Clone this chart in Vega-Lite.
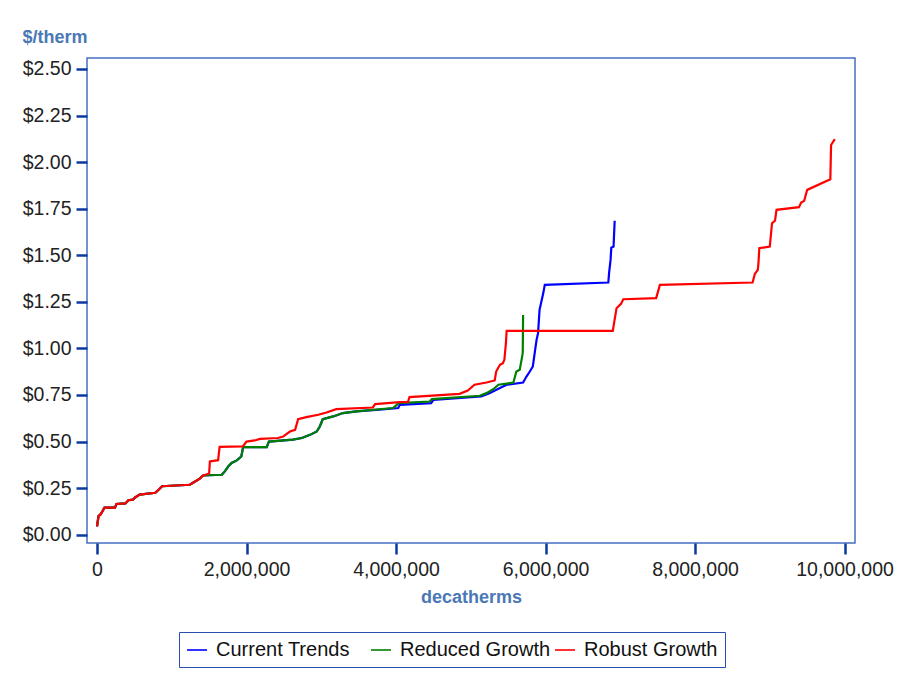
{
  "$schema": "https://vega.github.io/schema/vega-lite/v6.json",
  "width": 768,
  "height": 485,
  "autosize": {"type": "none"},
  "padding": {"left": 87, "top": 58, "right": 42, "bottom": 134},
  "background": "white",
  "config": {"view": {"stroke": "#4470c0", "strokeWidth": 1.5}, "font": "Liberation Sans"},
  "data": {"values": [
    {"s":"Current Trends","i":1,"x":0,"y":0.045},{"s":"Current Trends","i":2,"x":20000,"y":0.10},{"s":"Current Trends","i":3,"x":50000,"y":0.11},{"s":"Current Trends","i":4,"x":100000,"y":0.145},{"s":"Current Trends","i":5,"x":240000,"y":0.145},{"s":"Current Trends","i":6,"x":260000,"y":0.165},{"s":"Current Trends","i":7,"x":380000,"y":0.168},{"s":"Current Trends","i":8,"x":420000,"y":0.185},{"s":"Current Trends","i":9,"x":480000,"y":0.188},{"s":"Current Trends","i":10,"x":510000,"y":0.20},{"s":"Current Trends","i":11,"x":570000,"y":0.215},{"s":"Current Trends","i":12,"x":780000,"y":0.225},{"s":"Current Trends","i":13,"x":820000,"y":0.24},{"s":"Current Trends","i":14,"x":870000,"y":0.26},{"s":"Current Trends","i":15,"x":1240000,"y":0.268},{"s":"Current Trends","i":16,"x":1290000,"y":0.28},{"s":"Current Trends","i":17,"x":1370000,"y":0.30},{"s":"Current Trends","i":18,"x":1420000,"y":0.318},
    {"s":"Current Trends","i":19,"x":1670000,"y":0.322},{"s":"Current Trends","i":20,"x":1710000,"y":0.34},{"s":"Current Trends","i":21,"x":1755000,"y":0.366},{"s":"Current Trends","i":22,"x":1800000,"y":0.385},{"s":"Current Trends","i":23,"x":1870000,"y":0.399},{"s":"Current Trends","i":24,"x":1930000,"y":0.42},{"s":"Current Trends","i":25,"x":1955000,"y":0.47},{"s":"Current Trends","i":26,"x":2270000,"y":0.47},{"s":"Current Trends","i":27,"x":2300000,"y":0.50},{"s":"Current Trends","i":28,"x":2620000,"y":0.51},{"s":"Current Trends","i":29,"x":2740000,"y":0.519},{"s":"Current Trends","i":30,"x":2850000,"y":0.536},{"s":"Current Trends","i":31,"x":2940000,"y":0.554},{"s":"Current Trends","i":32,"x":2980000,"y":0.581},{"s":"Current Trends","i":33,"x":3020000,"y":0.62},{"s":"Current Trends","i":34,"x":3160000,"y":0.635},{"s":"Current Trends","i":35,"x":3290000,"y":0.653},{"s":"Current Trends","i":36,"x":3470000,"y":0.662},
    {"s":"Current Trends","i":37,"x":3780000,"y":0.671},{"s":"Current Trends","i":38,"x":4030000,"y":0.68},{"s":"Current Trends","i":39,"x":4050000,"y":0.697},{"s":"Current Trends","i":40,"x":4470000,"y":0.706},{"s":"Current Trends","i":41,"x":4500000,"y":0.724},{"s":"Current Trends","i":42,"x":5140000,"y":0.742},{"s":"Current Trends","i":43,"x":5250000,"y":0.76},{"s":"Current Trends","i":44,"x":5390000,"y":0.787},{"s":"Current Trends","i":45,"x":5480000,"y":0.805},{"s":"Current Trends","i":46,"x":5700000,"y":0.817},{"s":"Current Trends","i":47,"x":5745000,"y":0.849},{"s":"Current Trends","i":48,"x":5790000,"y":0.876},{"s":"Current Trends","i":49,"x":5830000,"y":0.903},{"s":"Current Trends","i":50,"x":5855000,"y":0.975},{"s":"Current Trends","i":51,"x":5880000,"y":1.046},{"s":"Current Trends","i":52,"x":5900000,"y":1.082},{"s":"Current Trends","i":53,"x":5920000,"y":1.207},{"s":"Current Trends","i":54,"x":5970000,"y":1.297},{"s":"Current Trends","i":55,"x":5990000,"y":1.341},{"s":"Current Trends","i":56,"x":6840000,"y":1.354},{"s":"Current Trends","i":57,"x":6850000,"y":1.404},{"s":"Current Trends","i":58,"x":6870000,"y":1.475},{"s":"Current Trends","i":59,"x":6880000,"y":1.541},{"s":"Current Trends","i":60,"x":6910000,"y":1.547},{"s":"Current Trends","i":61,"x":6925000,"y":1.685},

    {"s":"Reduced Growth","i":1,"x":0,"y":0.045},{"s":"Reduced Growth","i":2,"x":20000,"y":0.10},{"s":"Reduced Growth","i":3,"x":50000,"y":0.11},{"s":"Reduced Growth","i":4,"x":100000,"y":0.145},{"s":"Reduced Growth","i":5,"x":240000,"y":0.145},{"s":"Reduced Growth","i":6,"x":260000,"y":0.165},{"s":"Reduced Growth","i":7,"x":380000,"y":0.168},{"s":"Reduced Growth","i":8,"x":420000,"y":0.185},{"s":"Reduced Growth","i":9,"x":480000,"y":0.188},{"s":"Reduced Growth","i":10,"x":510000,"y":0.20},{"s":"Reduced Growth","i":11,"x":570000,"y":0.215},{"s":"Reduced Growth","i":12,"x":780000,"y":0.225},{"s":"Reduced Growth","i":13,"x":820000,"y":0.24},{"s":"Reduced Growth","i":14,"x":870000,"y":0.26},{"s":"Reduced Growth","i":15,"x":1240000,"y":0.268},{"s":"Reduced Growth","i":16,"x":1290000,"y":0.28},{"s":"Reduced Growth","i":17,"x":1370000,"y":0.30},{"s":"Reduced Growth","i":18,"x":1420000,"y":0.318},
    {"s":"Reduced Growth","i":19,"x":1670000,"y":0.322},{"s":"Reduced Growth","i":20,"x":1710000,"y":0.34},{"s":"Reduced Growth","i":21,"x":1755000,"y":0.366},{"s":"Reduced Growth","i":22,"x":1800000,"y":0.385},{"s":"Reduced Growth","i":23,"x":1870000,"y":0.399},{"s":"Reduced Growth","i":24,"x":1930000,"y":0.42},{"s":"Reduced Growth","i":25,"x":1955000,"y":0.47},{"s":"Reduced Growth","i":26,"x":2270000,"y":0.47},{"s":"Reduced Growth","i":27,"x":2300000,"y":0.50},{"s":"Reduced Growth","i":28,"x":2620000,"y":0.51},{"s":"Reduced Growth","i":29,"x":2740000,"y":0.519},{"s":"Reduced Growth","i":30,"x":2850000,"y":0.536},{"s":"Reduced Growth","i":31,"x":2940000,"y":0.554},{"s":"Reduced Growth","i":32,"x":2980000,"y":0.581},{"s":"Reduced Growth","i":33,"x":3020000,"y":0.62},{"s":"Reduced Growth","i":34,"x":3160000,"y":0.635},{"s":"Reduced Growth","i":35,"x":3290000,"y":0.653},{"s":"Reduced Growth","i":36,"x":3470000,"y":0.662},
    {"s":"Reduced Growth","i":37,"x":3960000,"y":0.68},{"s":"Reduced Growth","i":38,"x":4010000,"y":0.697},{"s":"Reduced Growth","i":39,"x":4030000,"y":0.706},{"s":"Reduced Growth","i":40,"x":4450000,"y":0.715},{"s":"Reduced Growth","i":41,"x":4480000,"y":0.728},{"s":"Reduced Growth","i":42,"x":5120000,"y":0.746},{"s":"Reduced Growth","i":43,"x":5210000,"y":0.76},{"s":"Reduced Growth","i":44,"x":5300000,"y":0.781},{"s":"Reduced Growth","i":45,"x":5370000,"y":0.805},{"s":"Reduced Growth","i":46,"x":5570000,"y":0.817},{"s":"Reduced Growth","i":47,"x":5610000,"y":0.876},{"s":"Reduced Growth","i":48,"x":5655000,"y":0.885},{"s":"Reduced Growth","i":49,"x":5695000,"y":0.975},{"s":"Reduced Growth","i":50,"x":5700000,"y":1.18},

    {"s":"Robust Growth","i":1,"x":0,"y":0.045},{"s":"Robust Growth","i":2,"x":20000,"y":0.10},{"s":"Robust Growth","i":3,"x":50000,"y":0.11},{"s":"Robust Growth","i":4,"x":100000,"y":0.145},{"s":"Robust Growth","i":5,"x":240000,"y":0.145},{"s":"Robust Growth","i":6,"x":260000,"y":0.165},{"s":"Robust Growth","i":7,"x":380000,"y":0.168},{"s":"Robust Growth","i":8,"x":420000,"y":0.185},{"s":"Robust Growth","i":9,"x":480000,"y":0.188},{"s":"Robust Growth","i":10,"x":510000,"y":0.20},{"s":"Robust Growth","i":11,"x":570000,"y":0.215},{"s":"Robust Growth","i":12,"x":780000,"y":0.225},{"s":"Robust Growth","i":13,"x":820000,"y":0.24},{"s":"Robust Growth","i":14,"x":870000,"y":0.26},{"s":"Robust Growth","i":15,"x":1240000,"y":0.268},{"s":"Robust Growth","i":16,"x":1290000,"y":0.28},{"s":"Robust Growth","i":17,"x":1370000,"y":0.30},{"s":"Robust Growth","i":18,"x":1420000,"y":0.318},
    {"s":"Robust Growth","i":19,"x":1470000,"y":0.325},{"s":"Robust Growth","i":20,"x":1500000,"y":0.33},{"s":"Robust Growth","i":21,"x":1510000,"y":0.393},{"s":"Robust Growth","i":22,"x":1620000,"y":0.40},{"s":"Robust Growth","i":23,"x":1640000,"y":0.472},{"s":"Robust Growth","i":24,"x":1950000,"y":0.474},{"s":"Robust Growth","i":25,"x":1990000,"y":0.495},{"s":"Robust Growth","i":26,"x":2000000,"y":0.50},{"s":"Robust Growth","i":27,"x":2110000,"y":0.506},{"s":"Robust Growth","i":28,"x":2180000,"y":0.514},{"s":"Robust Growth","i":29,"x":2420000,"y":0.519},{"s":"Robust Growth","i":30,"x":2490000,"y":0.527},{"s":"Robust Growth","i":31,"x":2580000,"y":0.554},{"s":"Robust Growth","i":32,"x":2650000,"y":0.563},{"s":"Robust Growth","i":33,"x":2690000,"y":0.62},{"s":"Robust Growth","i":34,"x":2800000,"y":0.631},{"s":"Robust Growth","i":35,"x":2960000,"y":0.644},{"s":"Robust Growth","i":36,"x":3070000,"y":0.656},{"s":"Robust Growth","i":37,"x":3200000,"y":0.674},{"s":"Robust Growth","i":38,"x":3690000,"y":0.683},{"s":"Robust Growth","i":39,"x":3720000,"y":0.701},{"s":"Robust Growth","i":40,"x":4050000,"y":0.712},{"s":"Robust Growth","i":41,"x":4160000,"y":0.713},{"s":"Robust Growth","i":42,"x":4180000,"y":0.739},{"s":"Robust Growth","i":43,"x":4850000,"y":0.756},{"s":"Robust Growth","i":44,"x":4960000,"y":0.774},{"s":"Robust Growth","i":45,"x":5050000,"y":0.805},{"s":"Robust Growth","i":46,"x":5210000,"y":0.817},{"s":"Robust Growth","i":47,"x":5320000,"y":0.828},{"s":"Robust Growth","i":48,"x":5340000,"y":0.876},{"s":"Robust Growth","i":49,"x":5390000,"y":0.912},{"s":"Robust Growth","i":50,"x":5430000,"y":0.921},{"s":"Robust Growth","i":51,"x":5450000,"y":0.94},{"s":"Robust Growth","i":52,"x":5470000,"y":1.028},{"s":"Robust Growth","i":53,"x":5480000,"y":1.094},{"s":"Robust Growth","i":54,"x":6900000,"y":1.094},{"s":"Robust Growth","i":55,"x":6920000,"y":1.144},{"s":"Robust Growth","i":56,"x":6950000,"y":1.216},{"s":"Robust Growth","i":57,"x":7010000,"y":1.239},{"s":"Robust Growth","i":58,"x":7040000,"y":1.264},{"s":"Robust Growth","i":59,"x":7480000,"y":1.27},{"s":"Robust Growth","i":60,"x":7530000,"y":1.341},{"s":"Robust Growth","i":61,"x":8770000,"y":1.354},{"s":"Robust Growth","i":62,"x":8800000,"y":1.40},{"s":"Robust Growth","i":63,"x":8840000,"y":1.422},{"s":"Robust Growth","i":64,"x":8850000,"y":1.466},{"s":"Robust Growth","i":65,"x":8860000,"y":1.538},{"s":"Robust Growth","i":66,"x":9000000,"y":1.547},{"s":"Robust Growth","i":67,"x":9030000,"y":1.672},{"s":"Robust Growth","i":68,"x":9070000,"y":1.686},{"s":"Robust Growth","i":69,"x":9090000,"y":1.744},{"s":"Robust Growth","i":70,"x":9390000,"y":1.758},{"s":"Robust Growth","i":71,"x":9420000,"y":1.783},{"s":"Robust Growth","i":72,"x":9460000,"y":1.792},{"s":"Robust Growth","i":73,"x":9500000,"y":1.851},{"s":"Robust Growth","i":74,"x":9810000,"y":1.908},{"s":"Robust Growth","i":75,"x":9820000,"y":2.092},{"s":"Robust Growth","i":76,"x":9870000,"y":2.123}
  ]},
  "mark": {"type": "line", "strokeWidth": 2.2, "clip": true},
  "encoding": {
    "x": {
      "field": "x", "type": "quantitative",
      "scale": {"domain": [-134000, 10140000], "nice": false, "zero": false},
      "axis": {
        "values": [0, 2000000, 4000000, 6000000, 8000000, 10000000],
        "format": ",d", "title": "decatherms", "grid": false, "domain": false,
        "tickColor": "#0a3aa0", "tickWidth": 2.5, "tickSize": 11,
        "labelFontSize": 19.5, "labelColor": "#222222", "labelPadding": 6,
        "titleFontSize": 18, "titleFontWeight": "bold", "titleColor": "#4a78b5", "titlePadding": 10
      }
    },
    "y": {
      "field": "y", "type": "quantitative",
      "scale": {"domain": [-0.0445, 2.559], "nice": false, "zero": false},
      "axis": {
        "values": [0, 0.25, 0.5, 0.75, 1, 1.25, 1.5, 1.75, 2, 2.25, 2.5],
        "format": "$.2f", "title": "$/therm", "grid": false, "domain": false,
        "tickColor": "#0a3aa0", "tickWidth": 2.5, "tickSize": 11,
        "labelFontSize": 19.5, "labelColor": "#222222", "labelPadding": 5,
        "titleFontSize": 18, "titleFontWeight": "bold", "titleColor": "#4a78b5",
        "titleAngle": 0, "titleAlign": "left", "titleBaseline": "alphabetic",
        "titleX": -65, "titleY": -16
      }
    },
    "color": {
      "field": "s", "type": "nominal",
      "scale": {"domain": ["Current Trends", "Reduced Growth", "Robust Growth"], "range": ["#0000ff", "#008000", "#ff0000"]},
      "legend": {
        "title": null, "orient": "none", "legendX": 92, "legendY": 574,
        "direction": "horizontal", "columns": 3, "gridAlign": "all",
        "symbolType": "stroke", "symbolSize": 400, "symbolStrokeWidth": 1.6,
        "labelFontSize": 20, "labelColor": "#111111", "labelOffset": 8,
        "strokeColor": "#2a4db0", "padding": 7, "columnPadding": 0
      }
    },
    "order": {"field": "i", "type": "quantitative"}
  }
}
